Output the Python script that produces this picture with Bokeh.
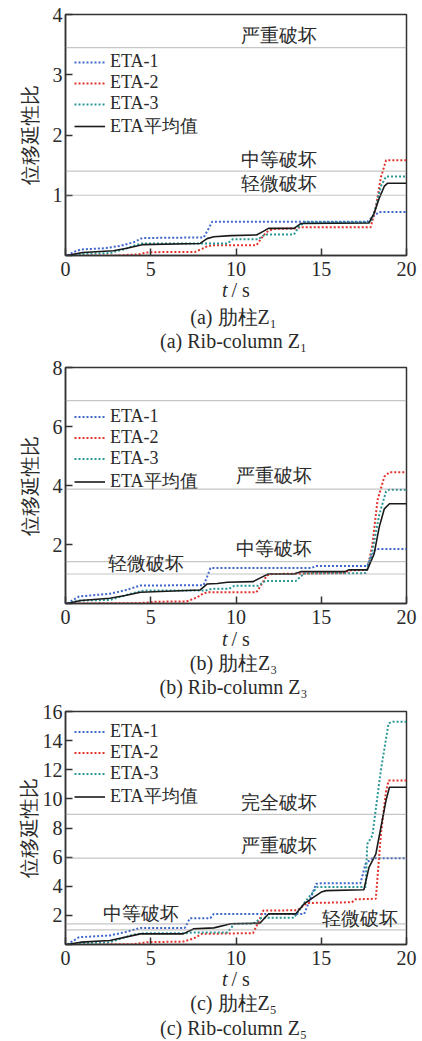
from bokeh.plotting import figure
from bokeh.layouts import column
from bokeh.models import Span, Label, Legend, LegendItem, FixedTicker, Range1d
from bokeh.embed import file_html
from bokeh.resources import INLINE

# ---------------- data ----------------
series_names = ["ETA-1", "ETA-2", "ETA-3", "ETA平均值"]
x_ticks = [0, 5, 10, 15, 20]

# (a) Rib-column Z1
z1_eta1_t = [0.1, 0.5, 0.9, 2.3, 3.2, 4.0, 4.5, 8.1, 8.4, 8.6, 17.7, 18.0, 18.4, 20.0]
z1_eta1_v = [0.0, 0.06, 0.10, 0.12, 0.16, 0.22, 0.29, 0.30, 0.45, 0.56, 0.56, 0.64, 0.72, 0.72]
z1_eta2_t = [0.3, 3.0, 4.3, 4.8, 5.0, 7.6, 8.0, 8.3, 8.6, 11.2, 11.6, 11.9, 12.2, 13.5, 13.8, 17.9, 18.2, 18.5, 18.8, 20.0]
z1_eta2_v = [0.0, 0.0, 0.02, 0.05, 0.055, 0.06, 0.11, 0.15, 0.17, 0.17, 0.33, 0.41, 0.44, 0.45, 0.47, 0.47, 0.80, 1.30, 1.58, 1.58]
z1_eta3_t = [0.3, 1.0, 2.6, 3.4, 4.2, 4.5, 9.5, 9.8, 11.3, 11.7, 13.4, 13.7, 14.0, 17.9, 18.2, 18.5, 18.8, 20.0]
z1_eta3_v = [0.0, 0.03, 0.04, 0.10, 0.18, 0.20, 0.20, 0.27, 0.27, 0.35, 0.35, 0.48, 0.55, 0.55, 0.80, 1.15, 1.31, 1.31]
z1_mean_t = [0.1, 1.0, 2.8, 3.6, 4.5, 7.9, 8.3, 8.7, 9.7, 11.2, 11.6, 11.9, 13.4, 13.8, 17.8, 18.1, 18.4, 18.7, 18.9, 20.0]
z1_mean_v = [0.0, 0.05, 0.08, 0.12, 0.18, 0.20, 0.28, 0.31, 0.33, 0.34, 0.40, 0.45, 0.45, 0.53, 0.54, 0.70, 0.95, 1.15, 1.20, 1.20]
z1_thresholds = [1.0, 1.4, 3.45]

# (b) Rib-column Z3
z3_eta1_t = [0.1, 0.8, 2.6, 3.5, 4.4, 8.1, 8.3, 8.5, 14.4, 14.7, 17.7, 17.9, 18.2, 20.0]
z3_eta1_v = [0.0, 0.24, 0.33, 0.45, 0.61, 0.62, 0.90, 1.20, 1.20, 1.27, 1.27, 1.55, 1.85, 1.85]
z3_eta2_t = [0.3, 4.0, 4.8, 5.2, 7.1, 7.7, 8.1, 8.4, 11.2, 11.5, 11.8, 12.1, 16.4, 16.6, 17.7, 18.0, 18.3, 18.7, 19.0, 20.0]
z3_eta2_v = [0.0, 0.01, 0.03, 0.06, 0.07, 0.20, 0.35, 0.38, 0.38, 0.65, 0.95, 1.00, 1.03, 1.12, 1.14, 2.00, 3.50, 4.30, 4.45, 4.45]
z3_eta3_t = [0.1, 0.8, 2.6, 4.0, 4.6, 8.2, 8.6, 9.6, 9.9, 11.3, 11.7, 13.5, 14.0, 17.6, 18.0, 18.4, 18.8, 19.0, 20.0]
z3_eta3_v = [0.0, 0.10, 0.12, 0.36, 0.44, 0.44, 0.50, 0.50, 0.60, 0.60, 0.76, 0.76, 1.02, 1.03, 1.80, 3.00, 3.80, 3.86, 3.86]
z3_mean_t = [0.1, 0.9, 2.6, 3.5, 4.4, 7.9, 8.3, 8.9, 9.5, 11.0, 11.6, 11.9, 13.4, 13.8, 16.4, 16.6, 17.7, 18.1, 18.4, 18.7, 19.0, 20.0]
z3_mean_v = [0.0, 0.10, 0.18, 0.27, 0.38, 0.46, 0.66, 0.68, 0.72, 0.74, 0.92, 1.00, 1.00, 1.08, 1.08, 1.14, 1.14, 1.68, 2.59, 3.21, 3.38, 3.38]
z3_thresholds = [1.0, 1.42, 3.88, 6.88]

# (c) Rib-column Z5
z5_eta1_t = [0.1, 0.8, 2.6, 3.5, 4.4, 7.0, 7.3, 8.5, 8.7, 14.0, 14.4, 14.7, 15.0, 17.3, 17.6, 18.0, 20.0]
z5_eta1_v = [0.0, 0.50, 0.62, 0.85, 1.14, 1.14, 1.81, 1.81, 2.10, 2.10, 3.25, 4.17, 4.20, 4.20, 5.54, 5.93, 5.93]
z5_eta2_t = [0.3, 4.0, 4.8, 6.9, 7.5, 8.0, 11.0, 11.3, 11.6, 13.6, 14.0, 14.2, 16.8, 17.0, 18.2, 18.5, 18.8, 18.95, 20.0]
z5_eta2_v = [0.0, 0.02, 0.16, 0.20, 0.40, 0.73, 0.78, 1.50, 2.33, 2.35, 2.70, 2.85, 2.90, 3.10, 3.14, 7.60, 10.5, 11.26, 11.26]
z5_eta3_t = [0.1, 0.9, 2.6, 4.0, 4.6, 7.1, 7.5, 9.5, 9.9, 11.0, 11.5, 13.4, 14.1, 14.76, 17.6, 17.7, 18.0, 18.5, 18.95, 19.2, 20.0]
z5_eta3_v = [0.0, 0.10, 0.15, 0.69, 0.78, 0.78, 0.83, 0.83, 1.42, 1.42, 1.83, 1.83, 3.00, 3.94, 3.94, 6.90, 7.50, 12.0, 15.2, 15.3, 15.3]
z5_mean_t = [0.1, 0.9, 2.6, 4.4, 6.9, 7.5, 8.7, 9.7, 11.4, 11.9, 13.5, 14.0, 14.56, 15.0, 15.3, 17.5, 17.8, 18.2, 18.5, 18.8, 19.0, 20.0]
z5_mean_v = [0.0, 0.16, 0.27, 0.73, 0.73, 1.07, 1.14, 1.42, 1.46, 2.10, 2.10, 2.80, 3.25, 3.60, 3.70, 3.76, 5.30, 6.20, 8.05, 9.90, 10.8, 10.8]
z5_thresholds = [1.0, 1.42, 5.93, 8.93]

# ---------------- styling ----------------
FONT = "Liberation Serif"
TXT = "#2a2a2a"
COLORS = ["#3f66cc", "#e2332b", "#2a9696", "#1a1a1a"]
DASHES = ["2 2", "2 2", "2 2", "solid"]
WIDTHS = [2.0, 2.0, 2.0, 1.6]
W = 420
FRAME_W = 341


def make_panel(series, thresholds, thr_labels, ymax, yticks, legend_loc, row_h,
               height, top, bottom, ylab_standoff):
    p = figure(width=W, height=height, x_range=Range1d(0, 20), y_range=Range1d(0, ymax),
               output_backend="svg", toolbar_location=None,
               min_border_left=65, min_border_right=W - 65 - FRAME_W,
               min_border_top=top, min_border_bottom=bottom)
    p.xgrid.visible = False
    p.ygrid.visible = False
    p.outline_line_color = "#333333"
    p.outline_line_width = 1.5
    p.outline_line_alpha = 1.0

    for ax in (p.xaxis[0], p.yaxis[0]):
        ax.major_tick_in = 7
        ax.major_tick_out = 0
        ax.minor_tick_line_color = None
        ax.major_tick_line_color = "#333333"
        ax.major_tick_line_width = 1.5
        ax.axis_line_color = "#333333"
        ax.axis_line_width = 1.5
        ax.major_label_text_font = FONT
        ax.major_label_text_font_size = "20px"
        ax.major_label_text_color = TXT
    p.xaxis.major_label_standoff = 6
    p.yaxis.major_label_standoff = 3
    p.xaxis.ticker = FixedTicker(ticks=x_ticks)
    p.yaxis.ticker = FixedTicker(ticks=yticks)
    p.yaxis.major_label_overrides = {0: ""}
    p.yaxis.axis_label = "位移延性比"
    p.yaxis.axis_label_text_font = FONT
    p.yaxis.axis_label_text_font_size = "20px"
    p.yaxis.axis_label_text_font_style = "normal"
    p.yaxis.axis_label_text_color = TXT
    p.yaxis.axis_label_standoff = ylab_standoff

    for thr in thresholds:
        p.add_layout(Span(location=thr, dimension="width", line_color="#8c8c8c",
                          line_width=1.2, line_dash="1 1"))
    for text, lx, ly in thr_labels:
        p.add_layout(Label(x=lx, y=ly, text=text, text_align="center", text_baseline="middle",
                           text_font=FONT, text_font_size="19px", text_color=TXT))

    renderers = []
    for (t, v), c, d, w in zip(series, COLORS, DASHES, WIDTHS):
        renderers.append(p.line(t, v, line_color=c, line_width=w, line_dash=d))

    items = [LegendItem(label=n, renderers=[r]) for n, r in zip(series_names, renderers)]
    legend = Legend(items=items, location=legend_loc, glyph_width=31, glyph_height=row_h,
                    label_height=row_h, label_standoff=5, spacing=0, padding=0, margin=0,
                    border_line_color=None, background_fill_alpha=0,
                    label_text_font=FONT, label_text_font_size="18px",
                    label_text_line_height=1.0, label_text_color=TXT)
    p.add_layout(legend)
    return p


def make_caption(captions, height, y_axis_title, y_cap1, y_cap2):
    # column layout aligns this frame with the chart frames above (left edge at 65 px)
    c = figure(width=W, height=height, x_range=Range1d(0, 1), y_range=Range1d(0, 1),
               output_backend="svg", toolbar_location=None,
               min_border_left=65, min_border_right=W - 65 - FRAME_W,
               min_border_top=0, min_border_bottom=0,
               x_axis_location=None, y_axis_location=None, outline_line_color=None)
    c.grid.visible = False
    mid = FRAME_W / 2
    c.add_layout(Label(x=mid - 8.5, y=y_axis_title, x_units="screen", y_units="screen", text="t",
                       text_align="right", text_baseline="middle", text_font=FONT,
                       text_font_size="20px", text_font_style="italic", text_color=TXT))
    c.add_layout(Label(x=mid - 4.5, y=y_axis_title, x_units="screen", y_units="screen", text="/ s",
                       text_align="left", text_baseline="middle", text_font=FONT,
                       text_font_size="20px", text_color=TXT))
    for cap, cy in zip(captions, (y_cap1, y_cap2)):
        c.add_layout(Label(x=mid, y=cy, x_units="screen", y_units="screen", text=cap,
                           text_align="center", text_baseline="middle", text_font=FONT,
                           text_font_size="20px", text_color=TXT))
    return c


p1 = make_panel(
    [(z1_eta1_t, z1_eta1_v), (z1_eta2_t, z1_eta2_v), (z1_eta3_t, z1_eta3_v), (z1_mean_t, z1_mean_v)],
    z1_thresholds,
    [("轻微破坏", 12.55, 1.19), ("中等破坏", 12.55, 1.59), ("严重破坏", 12.55, 3.65)],
    4, [0, 1, 2, 3, 4], (9, 117), 20, 278, 14, 23, 9)
c1 = make_caption(["(a)  肋柱Z₁", "(a)  Rib-column Z₁"], 79, 67.7, 41, 17)

p2 = make_panel(
    [(z3_eta1_t, z3_eta1_v), (z3_eta2_t, z3_eta2_v), (z3_eta3_t, z3_eta3_v), (z3_mean_t, z3_mean_v)],
    z3_thresholds,
    [("轻微破坏", 4.74, 1.34), ("中等破坏", 12.2, 1.85), ("严重破坏", 12.2, 4.34)],
    8, [0, 2, 4, 6, 8], (9, 110), 21, 269, 10, 23, 9)
c2 = make_caption(["(b)  肋柱Z₃", "(b)  Rib-column Z₃"], 75, 63, 38.3, 14.3)

p3 = make_panel(
    [(z5_eta1_t, z5_eta1_v), (z5_eta2_t, z5_eta2_v), (z5_eta3_t, z5_eta3_v), (z5_mean_t, z5_mean_v)],
    z5_thresholds,
    [("轻微破坏", 17.3, 1.76), ("中等破坏", 4.45, 2.1), ("严重破坏", 12.55, 6.8), ("完全破坏", 12.55, 9.73)],
    16, [0, 2, 4, 6, 8, 10, 12, 14, 16], (9, 136), 21, 266, 10, 23, 0)
c3 = make_caption(["(c)  肋柱Z₅", "(c)  Rib-column Z₅"], 72, 60.7, 36.3, 11.7)

layout = column(p1, c1, p2, c2, p3, c3, spacing=0)
open("out.html", "w").write(file_html(layout, INLINE))
